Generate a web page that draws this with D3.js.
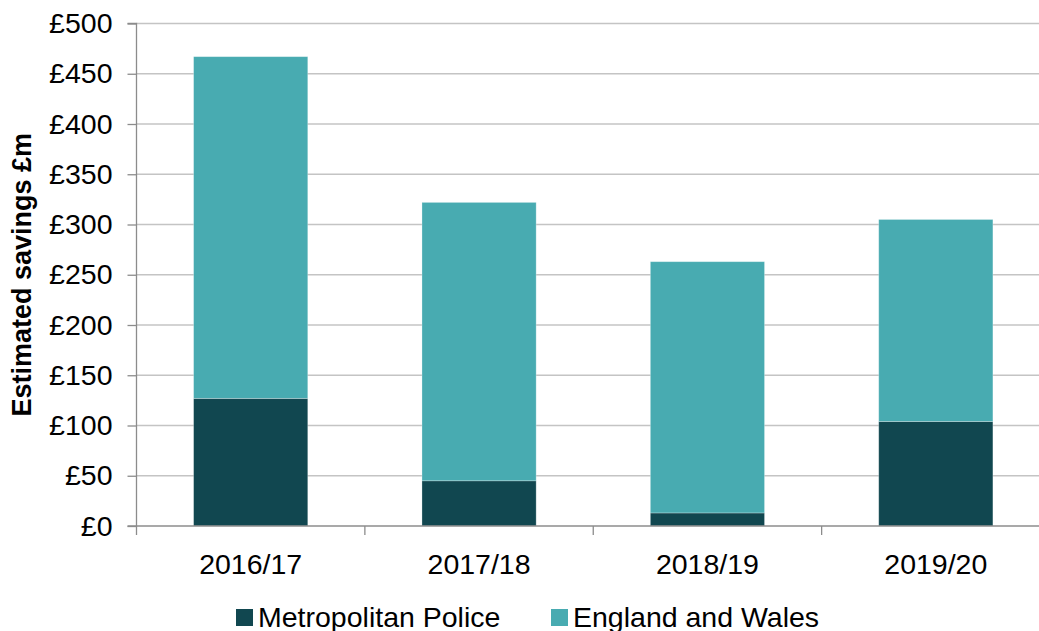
<!DOCTYPE html>
<html>
<head>
<meta charset="utf-8">
<script src="https://cdn.jsdelivr.net/npm/d3@7"></script>
<style>
  html, body { margin: 0; padding: 0; background: #fff; }
  svg { display: block; font-family: "Liberation Sans", Arial, sans-serif; }
</style>
</head>
<body>
<svg id="chart" width="1039" height="631"></svg>
<script>
const categories = ["2016/17", "2017/18", "2018/19", "2019/20"];
const seriesNames = ["Metropolitan Police", "England and Wales"];
const metropolitan = [127, 45, 13, 104];
const englandWales = [340, 277, 250, 201];
const yTicks = [0, 50, 100, 150, 200, 250, 300, 350, 400, 450, 500];
const colors = ["#114750", "#48abb1"];

const svg = d3.select("#chart");
const plotLeft = 136.5, plotRight = 1050, plotTop = 23.5, plotBottom = 526;

const x = d3.scaleBand().domain(categories).range([plotLeft, plotRight]).paddingInner(0.5).paddingOuter(0.25);
const y = d3.scaleLinear().domain([0, 500]).range([plotBottom, plotTop]);

// gridlines
svg.append("g").selectAll("line").data(yTicks.filter(d => d > 0)).join("line")
  .attr("x1", plotLeft).attr("x2", 1039)
  .attr("y1", d => y(d)).attr("y2", d => y(d))
  .attr("stroke", "#c4c4c4").attr("stroke-width", 1.3);

// stacked data
const rows = categories.map((c, i) => ({cat: c, "Metropolitan Police": metropolitan[i], "England and Wales": englandWales[i]}));
const stack = d3.stack().keys(seriesNames)(rows);

svg.append("g").selectAll("g").data(stack).join("g")
  .attr("fill", (d, i) => colors[i])
  .selectAll("rect").data(d => d).join("rect")
  .attr("x", d => x(d.data.cat))
  .attr("width", x.bandwidth())
  .attr("y", d => y(d[1]))
  .attr("height", d => y(d[0]) - y(d[1]))
  .attr("stroke", "rgba(255,255,255,0.35)").attr("stroke-width", 0.8);

// y axis
const yAxis = d3.axisLeft(y).tickValues(yTicks).tickFormat(d => "£" + d).tickSize(9).tickPadding(15);
const gy = svg.append("g").attr("transform", `translate(${plotLeft},0)`).call(yAxis);
gy.select(".domain").attr("stroke", "#8c8c8c").attr("stroke-width", 1.3).attr("d", `M-9,${plotTop}H0V${plotBottom}H-9`);
gy.selectAll(".tick line").attr("stroke", "#8c8c8c").attr("stroke-width", 1.3);
gy.selectAll(".tick text").attr("font-size", 28.5).attr("fill", "#000").attr("font-family", "Liberation Sans, Arial, sans-serif");

// x axis
const gx = svg.append("g").attr("transform", `translate(0,${plotBottom})`);
gx.append("line").attr("x1", plotLeft).attr("x2", 1039).attr("y1", 0).attr("y2", 0)
  .attr("stroke", "#8c8c8c").attr("stroke-width", 1.3);
const boundaries = categories.map(c => x(c) - x.step() * x.paddingInner() / 2).concat([x(categories[3]) + x.bandwidth() + x.step() * x.paddingInner() / 2]);
gx.selectAll("line.tk").data(boundaries).join("line").attr("class", "tk")
  .attr("x1", d => d).attr("x2", d => d).attr("y1", 0).attr("y2", 9)
  .attr("stroke", "#8c8c8c").attr("stroke-width", 1.3);
gx.selectAll("text").data(categories).join("text")
  .attr("x", d => x(d) + x.bandwidth() / 2).attr("y", 48)
  .attr("text-anchor", "middle").attr("font-size", 28.5).attr("fill", "#000")
  .text(d => d);

// y title
svg.append("text")
  .attr("transform", `translate(31,${(plotTop + plotBottom) / 2}) rotate(-90)`)
  .attr("text-anchor", "middle").attr("font-size", 27).attr("font-weight", "bold").attr("fill", "#000")
  .text("Estimated savings £m");

// legend
const legendX = [236, 551];
const lg = svg.append("g").selectAll("g").data(seriesNames).join("g")
  .attr("transform", (d, i) => `translate(${legendX[i]},609)`);
lg.append("rect").attr("width", 17).attr("height", 17).attr("fill", (d, i) => colors[i]);
lg.append("text").attr("x", 22).attr("y", 18).attr("font-size", 28.5).attr("fill", "#000").text(d => d);
</script>
</body>
</html>
